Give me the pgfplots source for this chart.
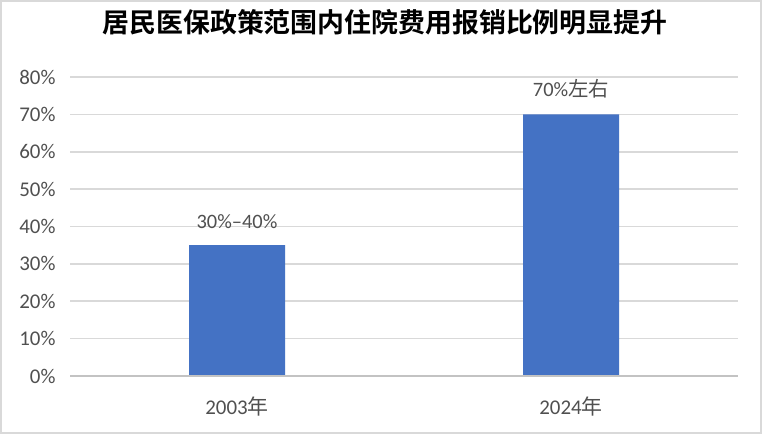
\documentclass[border=0pt]{standalone}
\usepackage{pgfplots}
\pgfplotsset{compat=1.18}
\usepackage{fontspec}
\setmainfont{Carlito}
\newfontfamily\cjk{Noto Sans CJK SC}
\newfontfamily\cjkb{Noto Sans CJK SC Bold}
\definecolor{barblue}{HTML}{4472C4}
\definecolor{txt}{HTML}{505050}
\definecolor{gridc}{HTML}{D9D9D9}
\begin{document}
\begin{tikzpicture}
\useasboundingbox (0,0) rectangle (762bp,434bp);
\fill[white] (0,0) rectangle (762bp,434bp);
\draw[gridc, line width=2bp] (1bp,1bp) rectangle (761bp,433bp);
\node[font={\cjkb\fontsize{27}{30}\selectfont}, text=black] at (385bp,412bp) {居民医保政策范围内住院费用报销比例明显提升};
\begin{axis}[
  at={(70bp,58bp)}, anchor=south west,
  scale only axis, width=668bp, height=299bp,
  xmin=-0.5, xmax=1.5, ymin=0, ymax=80,
  xtick={0,1}, xticklabels={2003{\cjk 年},2024{\cjk 年}},
  ytick={0,10,...,80},
  yticklabel={\pgfmathprintnumber{\tick}\%},
  /pgf/number format/assume math mode=true,
  major tick length=0pt,
  axis line style={draw=none},
  ymajorgrids, grid style={gridc, line width=1.6bp},
  ticklabel style={font=\fontsize{21}{24}\selectfont, text=txt},
  yticklabel style={xshift=-11bp},
  xticklabel style={anchor=center, yshift=-31bp},
  ybar, bar width=96bp,
  point meta=explicit symbolic,
  nodes near coords,
  nodes near coords style={font=\fontsize{20.5}{24}\selectfont, text=txt, anchor=south, yshift=13bp},
  clip=false,
]
\addplot[fill=barblue, draw=none] coordinates {(0,35) [30\%--40\%] (1,70) [70\%{\cjk 左右}]};
\draw[gridc!90!black, line width=2bp] (axis cs:-0.5,0) -- (axis cs:1.5,0);
\end{axis}
\end{tikzpicture}
\end{document}
